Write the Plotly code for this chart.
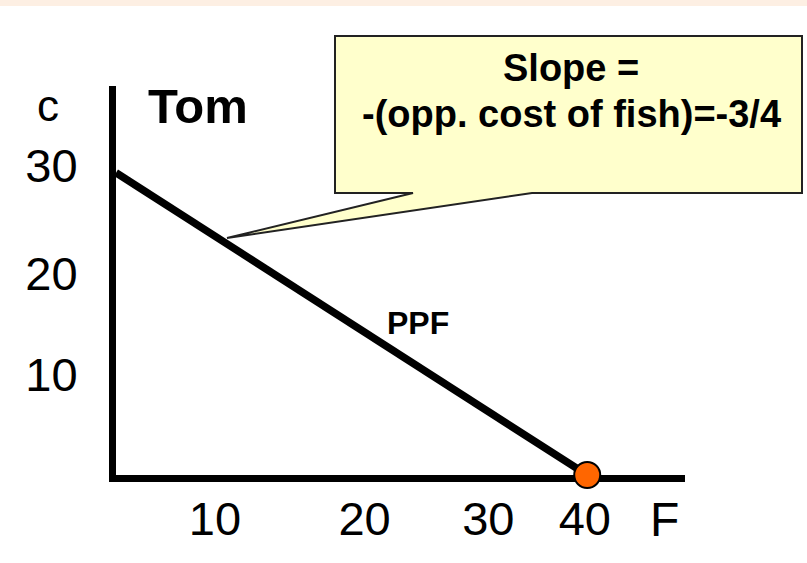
import plotly.graph_objects as go

# ---- data ----
ppf_fish = [0, 40]          # F (fish)
ppf_coconut = [30, 0]       # c (coconuts)
point_fish = [40]
point_coconut = [0]
x_tick_pos = [8.4, 21.1, 31.6, 39.8]
x_tick_text = ["10", "20", "30", "40"]
y_tick_pos = [10.0, 20.0, 30.7]
y_tick_text = ["10", "20", "30"]
x_range = [0, 48.3]
y_range = [0, 38.6]

W, H = 807, 563
L, R, T, B = 116, 122, 86, 88
pw, ph = W - L - R, H - T - B

def px(x):
    return (x - L) / pw

def py(y):
    return (H - B - y) / ph

FONT = "Arial, Liberation Sans, sans-serif"

fig = go.Figure()
fig.add_trace(go.Scatter(x=ppf_fish, y=ppf_coconut, mode="lines",
                         line=dict(color="black", width=7.5), cliponaxis=False,
                         hoverinfo="skip", showlegend=False))
fig.add_trace(go.Scatter(x=point_fish, y=point_coconut, mode="markers",
                         marker=dict(size=26, color="#FF6600",
                                     line=dict(color="black", width=2)),
                         cliponaxis=False, showlegend=False))

# callout box with pointer
pts = [(335, 36), (802, 36), (802, 193), (532, 193), (227, 238), (413, 193), (335, 193)]
path = "M " + " L ".join(f"{px(a):.5f},{py(b):.5f}" for a, b in pts) + " Z"
shapes = [
    dict(type="rect", xref="paper", yref="paper", x0=px(0), x1=px(W), y0=py(0), y1=py(6),
         fillcolor="#FDEFE3", line=dict(width=0), layer="below"),
    dict(type="path", xref="paper", yref="paper", path=path,
         fillcolor="#FFFFCC", line=dict(color="#222222", width=2)),
]

def ann(text, x, y, size, xanchor="center"):
    return dict(text=text, x=px(x), y=py(y), xref="paper", yref="paper",
                xanchor=xanchor, yanchor="middle", showarrow=False,
                font=dict(size=size, color="black", family=FONT))

annotations = [
    ann("<b>Slope =</b>", 571, 68, 38),
    ann("<b>-(opp. cost of fish)=-3/4</b>", 571, 114, 38),
    ann("<b>Tom</b>", 146, 106, 49, xanchor="left"),
    ann("<b>PPF</b>", 418, 323, 32),
    ann("c", 48, 106, 44),
    ann("F", 664, 519, 48),
]

fig.update_layout(
    width=W, height=H,
    margin=dict(l=L, r=R, t=T, b=B),
    paper_bgcolor="white", plot_bgcolor="white",
    shapes=shapes, annotations=annotations,
    xaxis=dict(range=x_range, showgrid=False, zeroline=False, showline=True,
               linecolor="black", linewidth=7, tickvals=x_tick_pos, ticktext=x_tick_text,
               ticks="", tickfont=dict(size=47, color="black", family=FONT),
               ticklabelstandoff=-3, layer="below traces"),
    yaxis=dict(range=y_range, showgrid=False, zeroline=False, showline=True,
               linecolor="black", linewidth=7, tickvals=y_tick_pos, ticktext=y_tick_text,
               ticks="", tickfont=dict(size=47, color="black", family=FONT),
               ticklabelstandoff=22, layer="below traces"),
    showlegend=False,
)

fig.write_html("out.html", post_script="document.body.style.margin='0px';",
               config={"displayModeBar": False})
